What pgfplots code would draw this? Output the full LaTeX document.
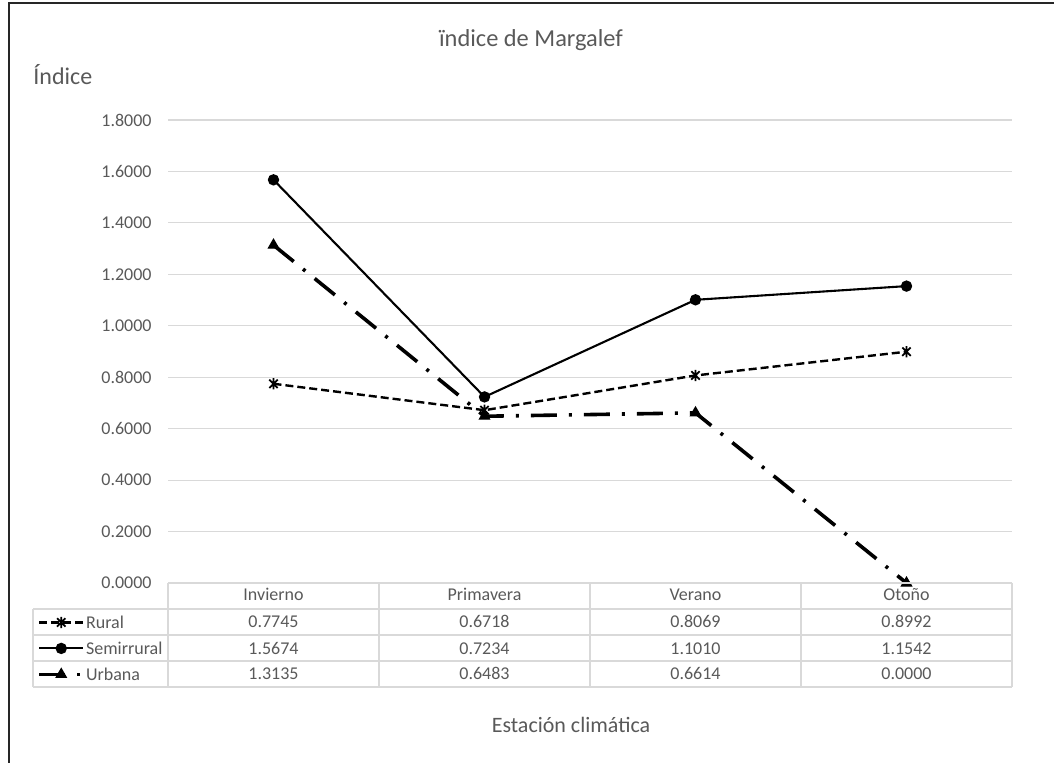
\documentclass[border=0pt]{standalone}
\usepackage{fontspec}
\setmainfont{Carlito}
\usepackage{pgfplots}
\usepackage{pgfplotstable}
\pgfplotsset{compat=1.18}

\definecolor{txt}{HTML}{595959}
\definecolor{gridc}{HTML}{D9D9D9}

% star marker: a cross with a vertical stroke
\pgfdeclareplotmark{xstar}{%
  \pgfpathmoveto{\pgfqpoint{-0.75\pgfplotmarksize}{-0.75\pgfplotmarksize}}%
  \pgfpathlineto{\pgfqpoint{0.75\pgfplotmarksize}{0.75\pgfplotmarksize}}%
  \pgfpathmoveto{\pgfqpoint{-0.75\pgfplotmarksize}{0.75\pgfplotmarksize}}%
  \pgfpathlineto{\pgfqpoint{0.75\pgfplotmarksize}{-0.75\pgfplotmarksize}}%
  \pgfpathmoveto{\pgfqpoint{0pt}{-\pgfplotmarksize}}%
  \pgfpathlineto{\pgfqpoint{0pt}{\pgfplotmarksize}}%
  \pgfusepathqstroke}

% Índice de Margalef por estación climática
\pgfplotstableread{
x rural semi urbana
1 0.7745 1.5674 1.3135
2 0.6718 0.7234 0.6483
3 0.8069 1.1010 0.6614
4 0.8992 1.1542 0.0000
}\margalef

\begin{document}
\begin{tikzpicture}
% page frame (units: 1 = 0.5pt, y downwards)
\begin{scope}[x=0.5pt,y=-0.5pt]
  \useasboundingbox (0,0) rectangle (1054,763);
  \draw[line width=1.2pt, black!85] (9,763) -- (9,3) -- (1054,3);
\end{scope}

\begin{axis}[
  at={(84pt,-291.5pt)}, anchor=south west,
  scale only axis, width=422pt, height=231.5pt,
  xmin=0.5, xmax=4.5, ymin=0, ymax=1.8,
  xtick={1,2,3,4},
  xticklabels={Invierno,Primavera,Verano,Otoño},
  ytick={0,0.2,0.4,0.6,0.8,1.0,1.2,1.4,1.6,1.8},
  major tick length=0pt,
  axis line style={draw=none},
  ymajorgrids, grid style={gridc, line width=0.6pt},
  clip=false,
  tick label style={font=\fontsize{9}{10}\selectfont, text=txt, inner sep=0pt},
  yticklabel style={anchor=east, xshift=-8pt,
    /pgf/number format/.cd, fixed, fixed zerofill, precision=4, assume math mode=true},
  xticklabel style={anchor=base, yshift=-8.5pt},
  title={ïndice de Margalef},
  every axis title/.style={at={(0.4301,1.1728)}, anchor=center, inner sep=0pt,
    font=\fontsize{12.2}{14}\selectfont, text=txt},
  xlabel={Estación climática},
  every axis x label/.style={at={(0.4775,-0.3067)}, anchor=center, inner sep=0pt,
    font=\fontsize{11}{13}\selectfont, text=txt},
  ylabel={Índice},
  every axis y label/.style={at={(-0.16,1.0972)}, anchor=west, inner sep=0pt,
    font=\fontsize{12}{14}\selectfont, text=txt},
  legend style={at={(-0.1599,-0.0562)}, anchor=north west, draw=none, fill=none,
    inner xsep=2pt, inner ysep=0pt, row sep=0pt,
    font=\fontsize{9}{10}\selectfont, text=txt,
    nodes={inner sep=0pt, text height=9.35pt, text depth=3.65pt},
    /tikz/every odd column/.style={column sep=0.5pt}},
  legend cell align=left,
  legend image code/.code={%
    \draw[mark repeat=2, mark phase=2] plot coordinates {(0pt,0pt) (11pt,0pt) (22pt,0pt)};},
]
\addplot[black, line width=1.2pt, dash pattern=on 4pt off 2pt,
  mark=xstar, mark size=2.8pt, mark options={solid, line width=0.9pt}]
  table[x=x, y=rural] {\margalef};
\addlegendentry{Rural}
\addplot[black, line width=1.05pt, mark=*, mark size=2.3pt, mark options={solid}]
  table[x=x, y=semi] {\margalef};
\addlegendentry{Semirrural}
\addplot[black, line width=1.8pt, dash pattern=on 13pt off 6pt on 1.5pt off 6pt,
  mark=triangle*, mark size=3pt, mark options={solid, line width=0.5pt}]
  table[x=x, y=urbana] {\margalef};
\addlegendentry{Urbana}
\end{axis}

% data table under the plot
\begin{scope}[x=0.5pt,y=-0.5pt]
  \begin{scope}[gridc, line width=0.6pt]
    \draw (168,583) -- (1012,583);
    \foreach \yy in {609,635,661,687} \draw (33,\yy) -- (1012,\yy);
    \draw (33,609) -- (33,687);
    \foreach \xx in {168,379,590,801,1012} \draw (\xx,583) -- (\xx,687);
  \end{scope}
  \begin{scope}[every node/.style={anchor=base, inner sep=0pt,
      font=\fontsize{9}{10}\selectfont, text=txt}]
    \foreach \v [count=\i] in {0.7745,0.6718,0.8069,0.8992}
      \node at (62.5+211*\i, 628) {\v};
    \foreach \v [count=\i] in {1.5674,0.7234,1.1010,1.1542}
      \node at (62.5+211*\i, 654) {\v};
    \foreach \v [count=\i] in {1.3135,0.6483,0.6614,0.0000}
      \node at (62.5+211*\i, 680) {\v};
  \end{scope}
\end{scope}
\end{tikzpicture}
\end{document}
